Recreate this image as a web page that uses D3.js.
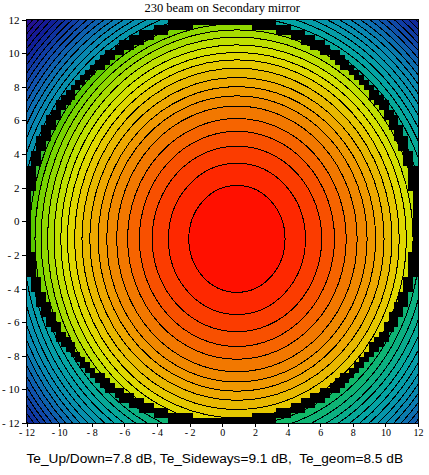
<!DOCTYPE html>
<html>
<head>
<meta charset="utf-8">
<script src="https://cdn.jsdelivr.net/npm/d3@7"></script>
<style>
body { margin: 0; background: #fff; }
text { fill: #000; }
</style>
</head>
<body>
<svg id="chart" width="429" height="475"></svg>
<script>
// beam centre on the mirror (x, y)
var beamCentre = [0.9, -1.05];

// contour rings, innermost first: half-width (x) and half-height (y)
var ringRx = [2.95, 4.2, 5.2, 5.98, 6.7, 7.37, 7.98, 8.5, 9.02, 9.5, 9.95, 10.39,
	10.8, 11.21, 11.61, 12.0, 12.38, 12.73, 13.08, 13.42, 13.75, 14.07, 14.39, 14.7,
	15.0, 15.3, 15.59, 15.87, 16.15, 16.43, 16.7, 16.97, 17.23, 17.49, 17.75, 18.0];
var ringRy = [3.18, 4.5, 5.52, 6.4, 7.16, 7.9, 8.51, 9.06, 9.6, 10.15, 10.65, 11.09,
	11.54, 12.0, 12.43, 12.8, 13.2, 13.58, 13.95, 14.31, 14.66, 15.0, 15.33, 15.66,
	15.98, 16.3, 16.6, 16.9, 17.2, 17.5, 17.8, 18.1, 18.38, 18.66, 18.94, 19.2];

// mirror rim: inner and outer radius, and the grid step it was drawn on
var mirrorRim = [11.7, 12.3];
var rimStep = 0.3;

// colour of each contour band (band 0 = centre)
var levelStops = [0, 1, 2, 3, 4, 5, 6, 7, 8, 9, 10, 11, 12, 13, 14, 15, 16, 17,
	18, 20, 25, 29, 33, 38, 43];
var levelColours = ["#ff1000", "#fe2800", "#fb3c00", "#f85000", "#f66400", "#f27800",
	"#f08800", "#f09800", "#eea800", "#e8b800", "#e6c800", "#e0d800", "#d4e000",
	"#c0e000", "#a8dc00", "#90d800", "#78d400", "#58c800", "#38c030", "#10b868",
	"#04a4a4", "#0888b0", "#1052ac", "#101e98", "#300890"];
// bands dropped by the spill past the rim
var spillOffset = 8;

var axisTicks = [-12, -10, -8, -6, -4, -2, 0, 2, 4, 6, 8, 10, 12];
var chartTitle = "230 beam on Secondary mirror";
var chartCaption = "Te_Up/Down=7.8 dB, Te_Sideways=9.1 dB,  Te_geom=8.5 dB";

var svg = d3.select("#chart");

var x = d3.scaleLinear().domain([-12, 12]).range([26.5, 418]);
var y = d3.scaleLinear().domain([-12, 12]).range([423, 19.5]);
var colour = d3.scaleLinear().domain(levelStops).range(levelColours).clamp(true);

var defs = svg.append("defs");
defs.append("clipPath").attr("id", "plotclip")
	.append("rect")
	.attr("x", x(-12)).attr("y", y(12))
	.attr("width", x(12) - x(-12)).attr("height", y(-12) - y(12));

// grid cells for the mirror mask
var grid = d3.range(-12 + rimStep / 2, 12, rimStep);
var cells = [];
grid.forEach(function (gx) {
	grid.forEach(function (gy) {
		cells.push({x: gx, y: gy, r: Math.sqrt(gx * gx + gy * gy)});
	});
});

// all cells as one path so there are no seams between them
function cellPath(list) {
	var h = rimStep / 2;
	return list.map(function (d) {
		var x0 = Math.round(x(d.x - h)), x1 = Math.round(x(d.x + h));
		var y0 = Math.round(y(d.y + h)), y1 = Math.round(y(d.y - h));
		return "M" + x0 + "," + y0 + "H" + x1 + "V" + y1 + "H" + x0 + "Z";
	}).join("");
}

defs.append("clipPath").attr("id", "mirrorclip")
	.append("path")
	.attr("d", cellPath(cells.filter(function (d) { return d.r < mirrorRim[0]; })));

var plot = svg.append("g").attr("clip-path", "url(#plotclip)");

// one layer of filled contour rings, band shifted by offset
function drawRings(g, offset) {
	var n = ringRx.length;
	g.append("rect")
		.attr("x", x(-12)).attr("y", y(12))
		.attr("width", x(12) - x(-12)).attr("height", y(-12) - y(12))
		.attr("fill", colour(n + offset));

	var rings = d3.range(n).reverse();
	g.selectAll("ellipse")
		.data(rings)
		.enter().append("ellipse")
		.attr("cx", x(beamCentre[0]))
		.attr("cy", y(beamCentre[1]))
		.attr("rx", function (i) { return x(beamCentre[0] + ringRx[i]) - x(beamCentre[0]); })
		.attr("ry", function (i) { return y(beamCentre[1]) - y(beamCentre[1] + ringRy[i]); })
		.attr("fill", function (i) { return colour(i + offset); })
		.attr("stroke", "#000")
		.attr("stroke-width", 1)
		.attr("shape-rendering", "crispEdges");
}

drawRings(plot.append("g"), spillOffset);
drawRings(plot.append("g").attr("clip-path", "url(#mirrorclip)"), 0);

// black rim of the mirror
plot.append("path")
	.attr("d", cellPath(cells.filter(function (d) { return d.r >= mirrorRim[0] && d.r < mirrorRim[1]; })))
	.attr("fill", "#000")
	.attr("shape-rendering", "crispEdges");

// frame
svg.append("rect")
	.attr("x", x(-12)).attr("y", y(12))
	.attr("width", x(12) - x(-12)).attr("height", y(-12) - y(12))
	.attr("fill", "none").attr("stroke", "#000")
	.attr("shape-rendering", "crispEdges");

function tickText(d) { return d < 0 ? "- " + (-d) : String(d); }

var xAxis = svg.append("g")
	.attr("transform", "translate(0," + y(-12) + ")")
	.call(d3.axisBottom(x).tickValues(axisTicks).tickFormat(tickText).tickSize(4).tickPadding(2));
xAxis.select(".domain").remove();
xAxis.selectAll("text")
	.style("font-family", "'Liberation Serif', serif").style("font-size", "10px");

var yAxis = svg.append("g")
	.attr("transform", "translate(" + x(-12) + ",0)")
	.call(d3.axisLeft(y).tickValues(axisTicks).tickFormat(tickText).tickSize(5).tickPadding(2));
yAxis.select(".domain").remove();
yAxis.selectAll("text")
	.style("font-family", "'Liberation Serif', serif").style("font-size", "11px");
svg.selectAll(".tick line").attr("stroke", "#000").attr("shape-rendering", "crispEdges");

svg.append("text")
	.attr("x", (x(-12) + x(12)) / 2).attr("y", 12)
	.attr("text-anchor", "middle")
	.style("font-family", "'Liberation Serif', serif").style("font-size", "12.5px")
	.text(chartTitle);

svg.append("text")
	.attr("x", x(-12)).attr("y", 463)
	.attr("xml:space", "preserve")
	.style("font-family", "'Liberation Sans', Arial, sans-serif").style("font-size", "13.7px")
	.text(chartCaption);
</script>
</body>
</html>
